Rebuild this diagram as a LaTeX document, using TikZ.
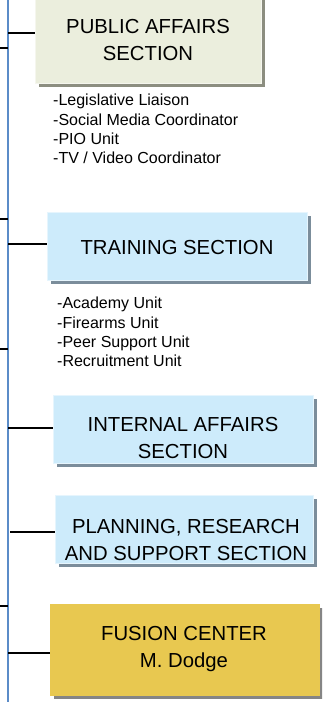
\documentclass[tikz,border=0pt]{standalone}
\usepackage{fontspec}
\setmainfont{Liberation Sans}
\usetikzlibrary{shadows}

\definecolor{trunkblue}{HTML}{5B8CC8}
\definecolor{pafill}{HTML}{EBEEDD}
\definecolor{pashadow}{HTML}{8C8E80}
\definecolor{skyfill}{HTML}{CDEBFB}
\definecolor{skyshadow}{HTML}{7B8D9B}
\definecolor{fusionfill}{HTML}{E8C850}
\definecolor{fusionshadow}{HTML}{858585}

\tikzset{
  secbox/.style={rectangle,inner sep=0pt,line width=1pt},
  secshadow/.style={drop shadow={shadow xshift=3.5pt,shadow yshift=-4pt,fill=#1,opacity=1}},
  sectext/.style={align=center,inner sep=0pt,font=\fontsize{20.3}{27}\selectfont},
  unitlist/.style={align=left,anchor=north west,inner sep=0pt,font=\fontsize{16}{19.3}\selectfont},
  branch/.style={black,line width=1.3pt}
}

\begin{document}
\begin{tikzpicture}[x=1pt,y=-1pt]
	\useasboundingbox (0,0) rectangle (322,702);
	\begin{scope}
		\clip (0,0) rectangle (322,702);
		% boxes
		\node[secbox,fill=pafill,draw=pafill!50!white,secshadow=pashadow,minimum width=226pt,minimum height=90pt] (public) at (148,38) {};
		\node[secbox,fill=skyfill,draw=skyfill!50!white,secshadow=skyshadow,minimum width=260pt,minimum height=68pt] (training) at (177,246) {};
		\node[secbox,fill=skyfill,draw=skyfill!50!white,secshadow=skyshadow,minimum width=260pt,minimum height=68pt] (internal) at (183,429) {};
		\node[secbox,fill=skyfill,draw=skyfill!50!white,secshadow=skyshadow,minimum width=258pt,minimum height=68pt] (planning) at (184,529) {};
		\node[secbox,fill=fusionfill,draw=fusionfill,secshadow=fusionshadow,minimum width=269pt,minimum height=91pt] (fusion) at (184.5,649.5) {};
	\end{scope}

	% box texts
	\node[sectext] (public-t) at (148,40) {PUBLIC AFFAIRS\\SECTION};
	\node[sectext] (training-t) at (177,248) {TRAINING SECTION};
	\node[sectext] (internal-t) at (183,438) {INTERNAL AFFAIRS\\SECTION};
	\node[sectext] (planning-t) at (186,540) {PLANNING, RESEARCH\\AND SUPPORT SECTION};
	\node[sectext] (fusion-t) at (184,649) {FUSION CENTER\\M. Dodge};

	% unit lists
	\node[unitlist] (public-units) at (53,94) {-Legislative Liaison\\-Social Media Coordinator\\-PIO Unit\\-TV / Video Coordinator};
	\node[unitlist] (training-units) at (57,297) {-Academy Unit\\-Firearms Unit\\-Peer Support Unit\\-Recruitment Unit};

	% trunk line
	\coordinate (top) at (8,0);
	\coordinate (bottom) at (8,702);
	\draw[trunkblue,line width=1.6pt] (top) -- (bottom);

	% stubs from the left
	\foreach \y [count=\i] in {48,219,349,606} {
		\coordinate (left\i) at (0,\y);
		\draw[branch] (left\i) -- (left\i -| top);
	}

	% branches to the boxes
	\coordinate (b1) at (8,33);
	\coordinate (b2) at (8,244);
	\coordinate (b3) at (8,428);
	\coordinate (b4) at (10,532);
	\coordinate (b5) at (8,653);
	\draw[branch] (b1) -- (b1 -| public.west);
	\draw[branch] (b2) -- (b2 -| training.west);
	\draw[branch] (b3) -- (b3 -| internal.west);
	\draw[branch] (b4) -- (b4 -| planning.west);
	\draw[branch] (b5) -- (b5 -| fusion.west);
\end{tikzpicture}
\end{document}
